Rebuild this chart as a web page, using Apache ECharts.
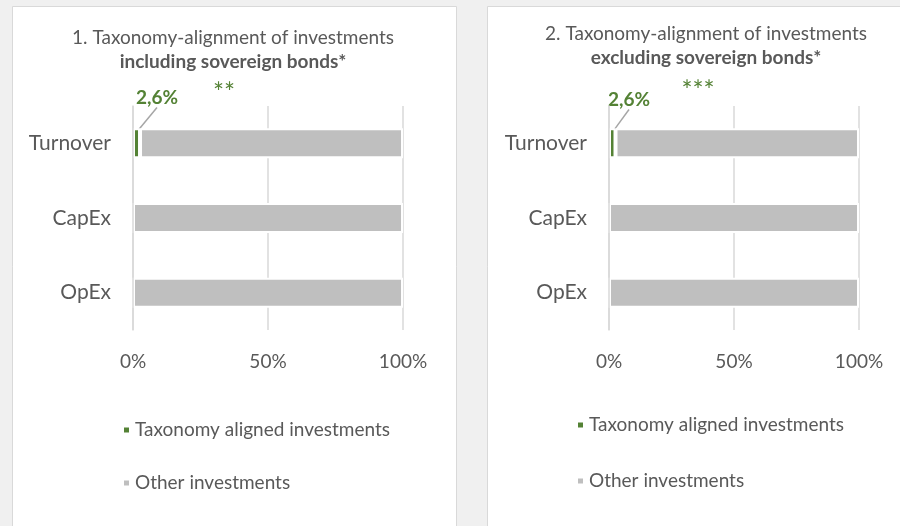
<!DOCTYPE html>
<html>
<head>
<meta charset="utf-8">
<script src="https://cdn.jsdelivr.net/npm/echarts@6/dist/echarts.min.js"></script>
<style>
  html, body { margin: 0; padding: 0; background: #f0f0f0; }
  #chart { width: 900px; height: 526px; }
</style>
</head>
<body>
<div id="chart"></div>
<script>
// Categories (top to bottom) and shares of investments, in percent
const categories = ['Turnover', 'CapEx', 'OpEx'];
const alignedIncl = [2.6, 0, 0];
const otherIncl = [97.4, 100, 100];
const alignedExcl = [2.6, 0, 0];
const otherExcl = [97.4, 100, 100];
const tickLabels = ['0%', '50%', '100%'];
const seriesNames = ['Taxonomy aligned investments', 'Other investments'];
const panelTitles = [
  ['1. Taxonomy-alignment of investments', 'including sovereign bonds*', '**'],
  ['2. Taxonomy-alignment of investments', 'excluding sovereign bonds*', '***']
];

const FONT = 'Lato';
const TEXT = '#595959';
const GREEN = '#548235';
const GREY = '#bfbfbf';
const GRID = '#d9d9d9';

const fmtPct = v => v.toFixed(1).replace('.', ',') + '%';

const chart = echarts.init(document.getElementById('chart'), null, { renderer: 'canvas' });

const grids = [
  { left: 133, right: 497, top: 106, height: 224 },
  { left: 609, right: 41, top: 106, height: 224 }
];

function xAxis(i) {
  return {
    gridIndex: i, type: 'value', min: 0, max: 100, interval: 50,
    axisLine: { show: false }, axisTick: { show: false },
    splitLine: { show: true, lineStyle: { color: GRID, width: 1.5 } },
    axisLabel: {
      margin: 22, color: TEXT, fontFamily: FONT, fontSize: 19,
      formatter: v => tickLabels[Math.round(v / 50)]
    }
  };
}
function yAxis(i) {
  return {
    gridIndex: i, type: 'category', data: categories, inverse: true, z: 5,
    axisLine: { show: true, lineStyle: { color: GRID, width: 1.5 } },
    axisTick: { show: false },
    axisLabel: { margin: 22, color: TEXT, fontFamily: FONT, fontSize: 21 }
  };
}
function barPair(i, aligned, other, labelPos) {
  return [
    {
      name: seriesNames[0], type: 'bar', stack: 's' + i,
      xAxisIndex: i, yAxisIndex: i, barWidth: 30,
      itemStyle: { color: GREEN, borderColor: '#fff', borderWidth: 2 },
      data: aligned,
      label: {
        show: true, position: 'insideLeft',
        formatter: p => (p.value > 0 ? fmtPct(p.value) : ''),
        color: GREEN, fontFamily: FONT, fontWeight: 'bold', fontSize: 19
      },
      labelLayout: p => (p.dataIndex === 0 ? { x: labelPos[0], y: labelPos[1], align: 'center', verticalAlign: 'middle' } : {}),
      labelLine: { show: true, lineStyle: { color: '#a6a6a6', width: 1.5 } },
      emphasis: { disabled: true }
    },
    {
      name: seriesNames[1], type: 'bar', stack: 's' + i,
      xAxisIndex: i, yAxisIndex: i, barWidth: 30,
      itemStyle: { color: GREY, borderColor: '#fff', borderWidth: 2 },
      data: other,
      emphasis: { disabled: true }
    }
  ];
}

function legend(left, top, gap) {
  return {
    data: seriesNames, orient: 'vertical', left: left, top: top, padding: 0,
    icon: 'rect', itemWidth: 7, itemHeight: 7, itemGap: gap,
    selectedMode: false,
    textStyle: { color: TEXT, fontFamily: FONT, fontSize: 19, lineHeight: 20 }
  };
}

function titles(centerX, top, t, starsDx, starsTop) {
  return [
    {
      text: t[0] + '\n{b|' + t[1] + '}',
      left: centerX, top: top, textAlign: 'center',
      textStyle: {
        color: TEXT, fontFamily: FONT, fontSize: 19, fontWeight: 'normal', lineHeight: 24,
        rich: { b: { color: TEXT, fontFamily: FONT, fontSize: 19, fontWeight: 'bold', lineHeight: 24 } }
      }
    },
    {
      text: t[2], left: centerX + starsDx, top: starsTop, textAlign: 'center',
      textStyle: { color: GREEN, fontFamily: FONT, fontSize: 26, fontWeight: 'normal' }
    }
  ];
}

chart.setOption({
  animation: false,
  backgroundColor: '#f0f0f0',
  graphic: [
    { type: 'rect', shape: { x: 12.5, y: 6.5, width: 444, height: 530 }, style: { fill: '#fff', stroke: GRID, lineWidth: 1 }, z: -10 },
    { type: 'rect', shape: { x: 487.5, y: 6.5, width: 420, height: 530 }, style: { fill: '#fff', stroke: GRID, lineWidth: 1 }, z: -10 }
  ],
  title: [].concat(titles(228, 21, panelTitles[0], -9, 76), titles(701, 17, panelTitles[1], -8, 74)),
  grid: grids,
  xAxis: [xAxis(0), xAxis(1)],
  yAxis: [yAxis(0), yAxis(1)],
  legend: [legend(122, 420, 33), legend(576, 415, 36)],
  series: [].concat(barPair(0, alignedIncl, otherIncl, [157, 98]), barPair(1, alignedExcl, otherExcl, [629, 100]))
});
</script>
</body>
</html>
